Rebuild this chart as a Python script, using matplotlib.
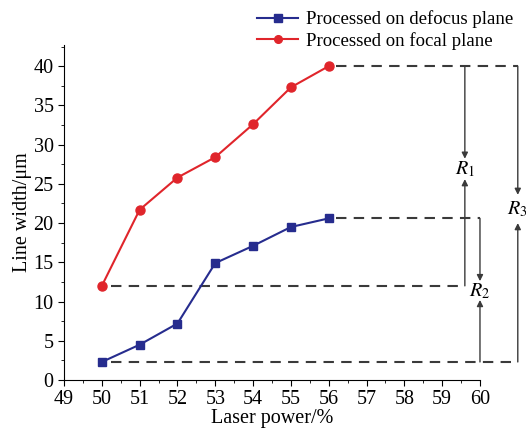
import matplotlib
matplotlib.use('Agg')
import matplotlib.pyplot as plt

plt.rcParams['font.family'] = ['Liberation Serif', 'DejaVu Serif']
plt.rcParams['mathtext.fontset'] = 'stix'

power = [50, 51, 52, 53, 54, 55, 56]
defocus = [2.3, 4.5, 7.2, 14.9, 17.1, 19.5, 20.6]
focal = [12.0, 21.7, 25.8, 28.4, 32.6, 37.3, 40.0]

blue = '#262c8e'
red = '#e0252b'
dash = '#3a3a3a'

fig = plt.figure(figsize=(5.26, 4.34), dpi=100)
ax = fig.add_axes([0.1217, 0.1244, 0.7908, 0.772])

ax.plot(power, defocus, color=blue, marker='s', markersize=6, lw=1.5,
        label='Processed on defocus plane', zorder=3)
ax.plot(power, focal, color=red, marker='o', markersize=6.5, lw=1.5,
        label='Processed on focal plane', zorder=3)

# dashed guide lines (extend past the axes on the right)
kw = dict(color=dash, lw=1.5, ls=(0, (5, 3.5)), clip_on=False, zorder=2)
ax.plot([power[-1] + 0.2, 61.0], [focal[-1], focal[-1]], **kw)
ax.plot([power[-1] + 0.2, 60.0], [defocus[-1], defocus[-1]], **kw)
ax.plot([power[0] + 0.25, 59.6], [focal[0], focal[0]], **kw)
ax.plot([power[0] + 0.25, 61.0], [defocus[0], defocus[0]], **kw)

def bracket(x, top, bottom, tip_dn, tip_up, label_y, name):
    ap = dict(arrowstyle='-|>', color=dash, lw=1.0, mutation_scale=9,
              shrinkA=0, shrinkB=0)
    ax.annotate('', xy=(x, tip_dn), xytext=(x, top), arrowprops=ap,
                annotation_clip=False)
    ax.annotate('', xy=(x, tip_up), xytext=(x, bottom), arrowprops=ap,
                annotation_clip=False)
    ax.text(x, label_y, name, ha='center', va='center', fontsize=14.5,
            clip_on=False)

bracket(59.6, focal[-1], focal[0], 28.2, 25.6, 26.8, r'$R_1$')
bracket(60.0, defocus[-1], defocus[0], 12.6, 10.2, 11.3, r'$R_2$')
bracket(61.0, focal[-1], defocus[0], 23.6, 20.0, 21.8, r'$R_3$')

ax.set_xlim(49, 60)
ax.set_ylim(0, 42.7)
ax.set_xticks(range(49, 61))
ax.set_xticks([x + 0.5 for x in range(49, 60)], minor=True)
ax.set_yticks(range(0, 41, 5))
ax.set_yticks([y + 2.5 for y in range(0, 41, 5)], minor=True)
ax.spines['top'].set_visible(False)
ax.spines['right'].set_visible(False)
ax.tick_params(which='both', direction='out', labelsize=14.5)
ax.tick_params(which='major', length=4)
ax.tick_params(which='minor', length=2.5)
ax.set_xlabel('Laser power/%', fontsize=14.5, labelpad=0)
ax.set_ylabel('Line width/\u03bcm', fontsize=14.5, labelpad=1)

ax.legend(loc='lower left', bbox_to_anchor=(0.46, 0.98), frameon=False,
          fontsize=13.5, handlelength=2.2, handletextpad=0.4,
          labelspacing=0.2, borderaxespad=0, borderpad=0.1,
          markerscale=0.85)

fig.savefig('out.png', dpi=100)
